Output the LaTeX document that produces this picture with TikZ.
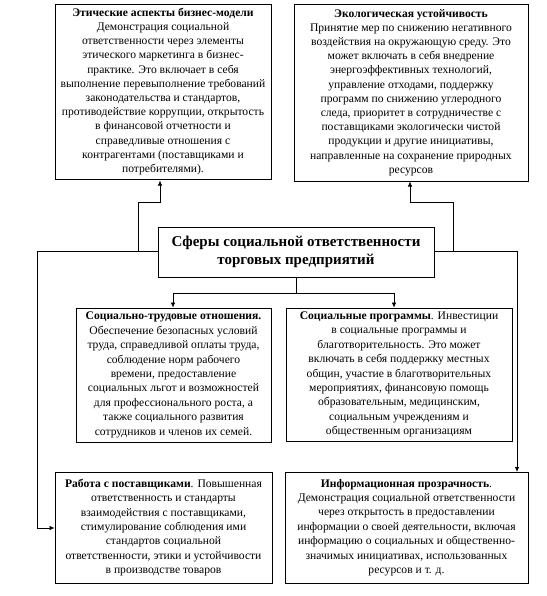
\documentclass[tikz,border=0pt]{standalone}
\usepackage{fontspec}
\setmainfont{Liberation Serif}
\usetikzlibrary{arrows.meta}
\begin{document}
\begin{tikzpicture}[x=1pt,y=-1pt,
  box/.style={draw=black,line width=0.8pt,fill=white,align=center,inner sep=1pt,
    font=\fontsize{11.6}{14.2}\selectfont},
  mid/.style={box,font=\fontsize{11.6}{14.4}\selectfont},
  conn/.style={draw=black,line width=0.75pt},
  arr/.style={conn,-{Latex[length=5pt,width=4.5pt]}}]
\useasboundingbox (0,0) rectangle (546,596);
\fill[white] (0,0) rectangle (546,596);

\node[box,minimum width=216pt,minimum height=175pt] (b1) at (163,91.5) {%
\textbf{Этические аспекты бизнес-модели}\\
Демонстрация социальной\\
ответственности через элементы\\
этического маркетинга в бизнес-\\
практике. Это включает в себя\\
выполнение перевыполнение требований\\
законодательства и стандартов,\\
противодействие коррупции, открытость\\
в финансовой отчетности и\\
справедливые отношения с\\
контрагентами (поставщиками и\\
потребителями).};

\node[box,minimum width=234pt,minimum height=177pt] (b2) at (411,92.5) {%
\textbf{Экологическая устойчивость}\\
Принятие мер по снижению негативного\\
воздействия на окружающую среду. Это\\
может включать в себя внедрение\\
энергоэффективных технологий,\\
управление отходами, поддержку\\
программ по снижению углеродного\\
следа, приоритет в сотрудничестве с\\
поставщиками экологически чистой\\
продукции и другие инициативы,\\
направленные на сохранение природных\\
ресурсов};

\node[box,minimum width=276pt,minimum height=50pt,font=\fontsize{15}{18}\selectfont\bfseries] (c) at (296,252) {%
Сферы социальной ответственности\\
торговых предприятий};

\node[mid,minimum width=195pt,minimum height=134pt] (b3) at (173.5,375) {%
\textbf{Социально-трудовые отношения.}\\
Обеспечение безопасных условий\\
труда, справедливой оплаты труда,\\
соблюдение норм рабочего\\
времени, предоставление\\
социальных льгот и возможностей\\
для профессионального роста, а\\
также социального развития\\
сотрудников и членов их семей.};

\node[mid,minimum width=226pt,minimum height=133pt] (b4) at (399,374.5) {%
\textbf{Социальные программы}. Инвестиции\\
в социальные программы и\\
благотворительность. Это может\\
включать в себя поддержку местных\\
общин, участие в благотворительных\\
мероприятиях, финансовую помощь\\
образовательным, медицинским,\\
социальным учреждениям и\\
общественным организациям};

\node[mid,minimum width=217pt,minimum height=111pt] (b5) at (163.5,527.5) {%
\textbf{Работа с поставщиками}. Повышенная\\
ответственность и стандарты\\
взаимодействия с поставщиками,\\
стимулирование соблюдения ими\\
стандартов социальной\\
ответственности, этики и устойчивости\\
в производстве товаров};

\node[mid,minimum width=243pt,minimum height=111pt] (b6) at (406.5,527.5) {%
\textbf{Информационная прозрачность}.\\
Демонстрация социальной ответственности\\
через открытость в предоставлении\\
информации о своей деятельности, включая\\
информацию о социальных и общественно-\\
значимых инициативах, использованных\\
ресурсов и т. д.};

% junction coordinates
\coordinate (lj) at (37,251);
\coordinate (rj) at (517,251);
\coordinate (lb) at (138,251);
\coordinate (rb) at (453,251);
\coordinate (cj) at (296,293);

% left side
\draw[conn] (c.west |- lj) -- (lj);
\draw[arr] (lb) -- (138,202) -- (160,202) -- (160,180.5);
\draw[arr] (lj) -- (37,528) -- (b5.west |- 0,528);
% right side
\draw[conn] (c.east |- rj) -- (rj);
\draw[arr] (rb) -- (453,202) -- (410,202) -- (410,181.5);
\draw[arr] (rj) -- (517,472);
% bottom center
\draw[conn] (c.south) -- (cj);
\draw[arr] (cj) -- (173,293) -- (173,293 |- b3.north);
\draw[arr] (cj) -- (394,293) -- (394,293 |- b4.north);
\end{tikzpicture}
\end{document}
